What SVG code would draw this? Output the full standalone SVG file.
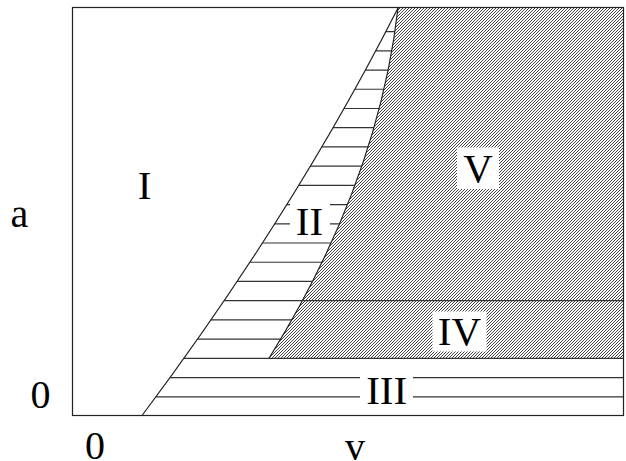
<svg xmlns="http://www.w3.org/2000/svg" width="626" height="461" viewBox="0 0 626 461">
<style>
.ln{stroke:#222;stroke-width:1.2;fill:none}
.hl{stroke:#333;stroke-width:1.2}
.lb{font-family:"Liberation Serif","Times New Roman",serif;font-size:41px;fill:#000;text-anchor:middle}
.box{fill:#fff}
</style>
<defs>
<pattern id="hatch" patternUnits="userSpaceOnUse" width="3" height="3">
<path d="M-1,1 L1,-1 M0,3 L3,0 M2,4 L4,2" stroke="#222" stroke-width="0.85"/>
</pattern>
<clipPath id="c23">
<path d="M141.7,416 Q294.6,212 398,8 Q378,183 269,358.3 L624,358.3 L624,416 Z"/>
</clipPath>
<clipPath id="cright">
<path d="M141.7,416 Q294.6,212 398,8 L624,8 L624,416 Z"/>
</clipPath>
</defs>
<rect x="0" y="0" width="626" height="461" fill="#fff"/>
<g id="region-IV-V">
<path d="M398,8 Q378,183 269,358.3 L624,358.3 L624,8 Z" fill="url(#hatch)"/>
</g>
<g id="connectors">
<g id="hatch-lines" clip-path="url(#c23)">
<line class="hl" x1="72" x2="624" y1="396.78" y2="396.78"/>
<line class="hl" x1="72" x2="624" y1="377.56" y2="377.56"/>
<line class="hl" x1="72" x2="624" y1="339.12" y2="339.12"/>
<line class="hl" x1="72" x2="624" y1="319.9" y2="319.9"/>
<line class="hl" x1="72" x2="624" y1="281.46" y2="281.46"/>
<line class="hl" x1="72" x2="624" y1="262.24" y2="262.24"/>
<line class="hl" x1="72" x2="624" y1="243.02" y2="243.02"/>
<line class="hl" x1="72" x2="624" y1="223.8" y2="223.8"/>
<line class="hl" x1="72" x2="624" y1="204.58" y2="204.58"/>
<line class="hl" x1="72" x2="624" y1="185.36" y2="185.36"/>
<line class="hl" x1="72" x2="624" y1="166.14" y2="166.14"/>
<line class="hl" x1="72" x2="624" y1="146.92" y2="146.92"/>
<line class="hl" x1="72" x2="624" y1="127.7" y2="127.7"/>
<line class="hl" x1="72" x2="624" y1="108.48" y2="108.48"/>
<line class="hl" x1="72" x2="624" y1="89.26" y2="89.26"/>
<line class="hl" x1="72" x2="624" y1="70.04" y2="70.04"/>
<line class="hl" x1="72" x2="624" y1="50.82" y2="50.82"/>
<line class="hl" x1="72" x2="624" y1="31.6" y2="31.6"/>
</g>
<g clip-path="url(#cright)">
<line class="hl" x1="72" x2="624" y1="358.34" y2="358.34"/>
<line class="hl" x1="72" x2="624" y1="300.68" y2="300.68" stroke="#111"/>
</g>
<path class="ln" d="M141.7,416 Q294.6,212 398,8"/>
<path class="ln" d="M398,8 Q378,183 269,358.3"/>
</g>
<g id="label-I"><text class="lb" x="144.5" y="199">I</text></g>
<g id="label-II"><rect class="box" x="290" y="202" width="40" height="34"/><text class="lb" x="309.5" y="235">II</text></g>
<g id="label-III"><rect class="box" x="360" y="370" width="53" height="35"/><text class="lb" x="386.7" y="404">III</text></g>
<g id="label-IV"><rect class="box" x="432.5" y="311.5" width="54" height="40"/><text class="lb" x="459.5" y="345">IV</text></g>
<g id="label-V"><rect class="box" x="457" y="147.5" width="42" height="41.5"/><text class="lb" x="478" y="182">V</text></g>
<g id="frame"><rect class="ln" x="72.5" y="7.5" width="551" height="408"/></g>
<g id="axis-labels" font-family="'Liberation Serif','Times New Roman',serif" font-size="40" fill="#000" text-anchor="middle">
<text x="19.5" y="226.5">a</text>
<text x="40.5" y="408">0</text>
<text x="95" y="459">0</text>
<text x="355" y="460">v</text>
</g>
</svg>
